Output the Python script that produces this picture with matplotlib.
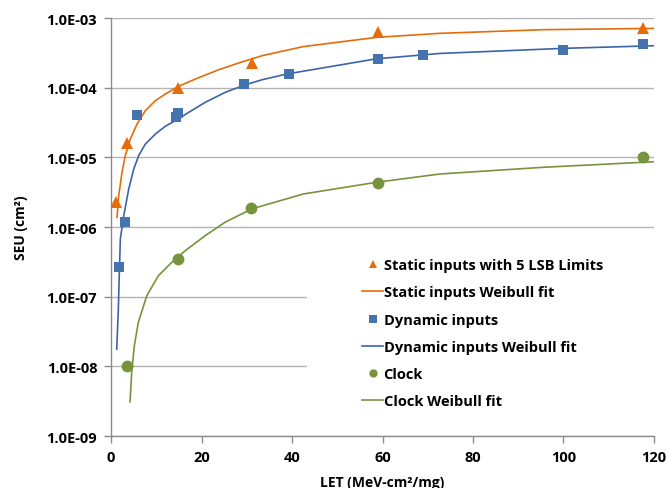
import numpy as np
import matplotlib
matplotlib.use('Agg')
import matplotlib.pyplot as plt
from matplotlib.patches import Rectangle
from matplotlib.ticker import FixedLocator, FuncFormatter

plt.rcParams['font.family'] = ['Open Sans', 'DejaVu Sans']
plt.rcParams['font.weight'] = 'bold'

# Measured points (LET, SEU cross section)
static_let = [1.0, 3.6, 14.7, 31.1, 58.9, 117.6]
static_seu = [2.26e-6, 1.6e-5, 9.8e-5, 2.26e-4, 6.2e-4, 7.1e-4]

dynamic_let = [1.8, 3.2, 5.8, 14.3, 14.7, 29.5, 39.4, 58.9, 69.0, 99.8, 117.6]
dynamic_seu = [2.64e-7, 1.19e-6, 4.1e-5, 3.75e-5, 4.4e-5, 1.12e-4, 1.59e-4,
               2.58e-4, 2.94e-4, 3.5e-4, 4.23e-4]

clock_let = [3.5, 14.7, 31.0, 58.9, 117.6]
clock_seu = [1.0e-8, 3.47e-7, 1.85e-6, 4.28e-6, 1.02e-5]

# Weibull fit curves
static_fit_let = [1.33, 1.70, 2.43, 3.16, 4.27, 5.75, 7.58, 9.79, 12.0, 14.96,
                  18.63, 23.8, 28.2, 33.4, 42.5, 58.7, 72.7, 95.5, 120.0]
static_fit_seu = [1.38e-6, 2.81e-6, 6.1e-6, 1.06e-5, 1.83e-5, 3.01e-5, 4.67e-5,
                  6.5e-5, 8.11e-5, 1.05e-4, 1.33e-4, 1.81e-4, 2.26e-4, 2.88e-4,
                  3.89e-4, 5.28e-4, 6.03e-4, 6.8e-4, 7.1e-4]

dynamic_fit_let = [1.26, 1.62, 1.84, 2.06, 2.81, 3.91, 5.02, 6.12, 7.58, 9.79,
                   12.0, 14.21, 17.17, 20.84, 25.26, 29.68, 33.37, 38.8, 58.7,
                   72.7, 100.0, 120.0]
dynamic_fit_seu = [1.77e-8, 6.65e-8, 2.24e-7, 6.73e-7, 1.45e-6, 3.51e-6, 6.8e-6,
                   1.06e-5, 1.55e-5, 2.16e-5, 2.79e-5, 3.36e-5, 4.43e-5, 6.17e-5,
                   8.59e-5, 1.10e-4, 1.30e-4, 1.57e-4, 2.60e-4, 3.10e-4, 3.67e-4,
                   4.0e-4]

clock_fit_let = [4.2, 4.57, 5.15, 6.04, 7.9, 10.46, 13.4, 16.4, 20.8, 25.2,
                 31.1, 42.5, 58.7, 72.7, 95.5, 120.0]
clock_fit_seu = [3.1e-9, 8.2e-9, 1.98e-8, 4.3e-8, 1.03e-7, 2.0e-7, 3.1e-7, 4.57e-7,
                 7.5e-7, 1.17e-6, 1.82e-6, 2.98e-6, 4.39e-6, 5.77e-6, 7.2e-6,
                 8.65e-6]

x_ticks = [0, 20, 40, 60, 80, 100, 120]
y_ticks = [1e-9, 1e-8, 1e-7, 1e-6, 1e-5, 1e-4, 1e-3]

orange = '#E46C0A'
blue_mk = '#4573AE'
blue_ln = '#3D64A6'
green = '#77933C'
grey = '#8C8C8C'

fig = plt.figure(figsize=(6.7, 4.89), dpi=100)
ax = fig.add_axes([0.1657, 0.1063, 0.8104, 0.8548])

ax.plot(static_let, static_seu, '^', color=orange, ms=9, mew=0,
        label='Static inputs with 5 LSB Limits', zorder=3)
ax.plot(static_fit_let, static_fit_seu, '-', color=orange, lw=1.2,
        label='Static inputs Weibull fit', zorder=2)
ax.plot(dynamic_let, dynamic_seu, 's', color=blue_mk, ms=7.5, mew=0,
        label='Dynamic inputs', zorder=3)
ax.plot(dynamic_fit_let, dynamic_fit_seu, '-', color=blue_ln, lw=1.2,
        label='Dynamic inputs Weibull fit', zorder=2)
ax.plot(clock_let, clock_seu, 'o', color=green, ms=8.5, mew=0,
        label='Clock', zorder=3)
ax.plot(clock_fit_let, clock_fit_seu, '-', color=green, lw=1.2,
        label='Clock Weibull fit', zorder=2)

ax.set_yscale('log')
ax.set_xlim(0, 120)
ax.set_ylim(1e-9, 1e-3)
ax.xaxis.set_major_locator(FixedLocator(x_ticks))
ax.yaxis.set_major_locator(FixedLocator(y_ticks))
ax.yaxis.set_minor_locator(FixedLocator([]))
ax.yaxis.set_major_formatter(FuncFormatter(
    lambda v, p: '1.0E-%02d' % round(-np.log10(v))))

for side in ['top', 'right']:
    ax.spines[side].set_visible(False)
for side in ['left', 'bottom']:
    ax.spines[side].set_color(grey)
    ax.spines[side].set_linewidth(1.0)
ax.tick_params(axis='both', direction='out', color=grey, length=5, width=1,
               labelsize=10.5, pad=5)

ax.grid(axis='y', color='#B4B4B4', lw=1.0)
ax.set_axisbelow(True)

# white patch behind the legend hides the gridlines there
ax.add_patch(Rectangle((0.361, 0.015), 0.64, 0.46, transform=ax.transAxes,
                       facecolor='white', edgecolor='none', zorder=1))

ax.set_xlabel('LET (MeV-cm²/mg)', fontsize=10, fontweight='bold', labelpad=8)
ax.set_ylabel('SEU (cm²)', fontsize=10, fontweight='bold', labelpad=13)

leg = ax.legend(loc='upper left', bbox_to_anchor=(0.4495, 0.443), frameon=False,
                prop={'weight': 'bold', 'size': 10.5},
                handlelength=1.4, handletextpad=0.05, labelspacing=0.91,
                borderpad=0, markerscale=0.7)

fig.savefig('out.png', dpi=100)
